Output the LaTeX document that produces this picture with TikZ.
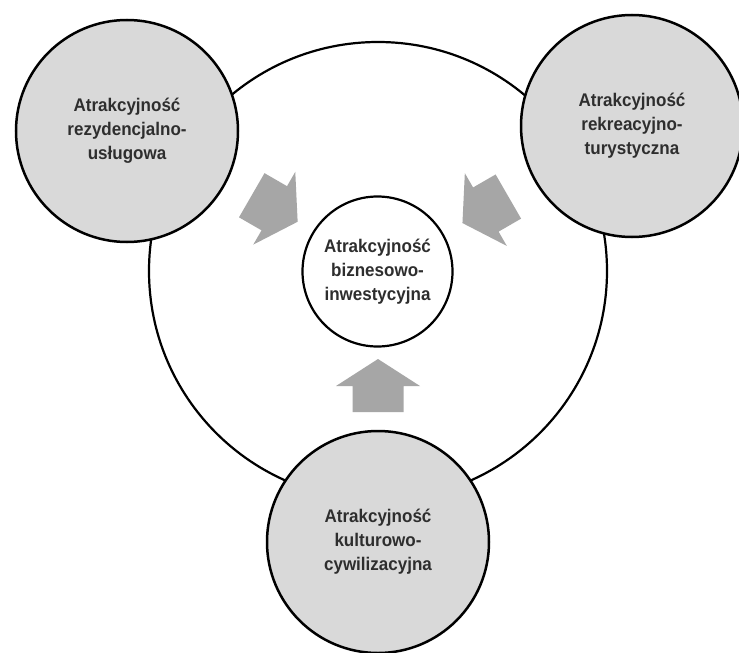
\documentclass[tikz,border=0pt]{standalone}
\usepackage{fontspec}
\setmainfont{Liberation Sans}[FakeStretch=0.93]
\usepackage{tikz}

\definecolor{circlegray}{HTML}{D9D9D9}
\definecolor{arrowgray}{HTML}{A6A6A6}
\definecolor{textgray}{HTML}{2E2E2E}

\begin{document}
\begin{tikzpicture}[x=1pt,y=-1pt,
		attr/.style={circle,draw,line width=2.5pt,fill=circlegray,
			minimum size=222pt,inner sep=0pt,align=center,text=textgray,
			font=\fontsize{18.3}{24}\selectfont\bfseries},
		core/.style={attr,fill=white,line width=2.2pt,minimum size=150pt},
		blockarrow/.style={fill=arrowgray}]
		% frame
		\clip (0,0) rectangle (739,653);

		% big circle
		\draw [line width=2.2pt,fill=white] (378,271) circle [radius=229pt];

		% outer circles
		\node [attr] (rezyd) at (127,131) {Atrakcyjność\\rezydencjalno-\\usługowa};
		\node [attr] (rekre) at (632,126) {Atrakcyjność\\rekreacyjno-\\turystyczna};
		\node [attr] (kultur) at (378,542) {Atrakcyjność\\kulturowo-\\cywilizacyjna};

		% centre
		\node [core] (biznes) at (377.5,271.5) {Atrakcyjność\\biznesowo-\\inwestycyjna};

		% arrows
		\fill [blockarrow,shift={(274.7,208.5)},rotate=-30]
			(-26.5,-25.5) -- (-0.5,-25.5) -- (-0.5,-42) -- (26.5,0)
			-- (-0.5,42) -- (-0.5,25.5) -- (-26.5,25.5) -- cycle;
		\fill [blockarrow,shift={(485.4,209.8)},rotate=-150]
			(-26.5,-25.5) -- (-0.5,-25.5) -- (-0.5,-42) -- (26.5,0)
			-- (-0.5,42) -- (-0.5,25.5) -- (-26.5,25.5) -- cycle;
		\fill [blockarrow,shift={(378,385.5)},rotate=90]
			(-26.5,-25.5) -- (-0.5,-25.5) -- (-0.5,-42) -- (26.5,0)
			-- (-0.5,42) -- (-0.5,25.5) -- (-26.5,25.5) -- cycle;
	\end{tikzpicture}
\end{document}
